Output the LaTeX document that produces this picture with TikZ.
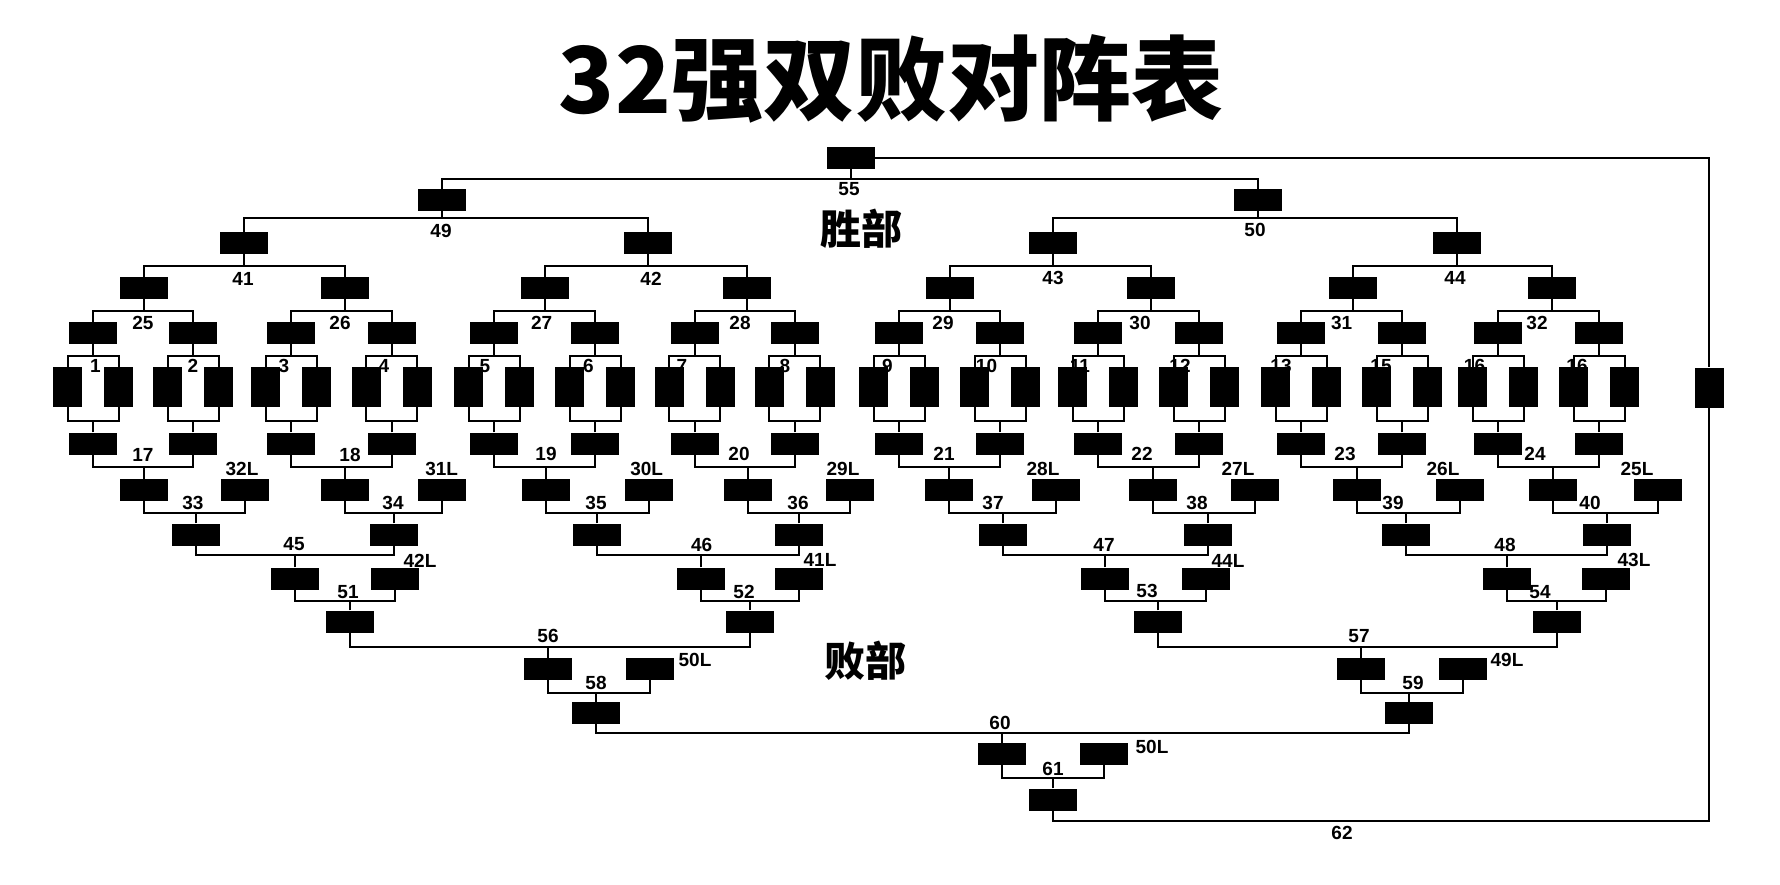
\documentclass[tikz,border=0pt]{standalone}
\usepackage{fontspec}
\setmainfont{Liberation Sans}
\newfontfamily\cjk{Noto Sans CJK SC}
\begin{document}
\begin{tikzpicture}[x=1pt,y=-1pt,
  bx/.style={rectangle,fill=black,inner sep=0pt,minimum width=48pt,minimum height=22pt},
  tall/.style={rectangle,fill=black,inner sep=0pt,minimum width=29pt,minimum height=40pt},
  lab/.style={inner sep=0pt,font=\fontsize{19}{21}\selectfont\bfseries},
  cjkt/.style={inner sep=0pt,font=\cjk\bfseries\fontsize{92}{104}\selectfont},
  cjks/.style={inner sep=0pt,font=\cjk\bfseries\fontsize{41}{47}\selectfont},
  ln/.style={line width=2pt},
]
\fill[white] (0,0) rectangle (1780,884);
\useasboundingbox (0,0) rectangle (1780,884);

% titles
\node[cjkt] (title) at (891,79) {32强双败对阵表};
\node[cjks] (win) at (861,229) {胜部};
\node[cjks] (lose) at (865,661) {败部};

% first-round labels (partly hidden behind the boxes)
\foreach \t/\x [count=\c] in {1/95.5,2/193,3/284,4/384,5/485,6/588.5,7/682,8/785,9/887.5,10/986.5,11/1080,12/1180,13/1281,15/1381,16/1474.5,16/1577}
  \node[lab] (m\c) at (\x,366) {\t};

% first round
\foreach \k/\m in {1/93,2/193,3/291,4/391.5,5/494,6/595,7/694.5,8/794.5,9/899,10/1000,11/1098,12/1199,13/1301,14/1402,15/1498,16/1599}{
  \node[tall] (ta\k) at (\m-25.5,387) {};
  \node[tall] (tc\k) at (\m+25.5,387) {};
  \node[bx] (w\k) at (\m,333) {};
  \node[bx] (l\k) at (\m,443.5) {};
  \coordinate (jw\k) at (\m,356);
  \coordinate (jl\k) at (\m,421);
  \draw[ln] (ta\k.north) |- (jw\k) -| (tc\k.north);
  \draw[ln] (w\k.south) -- (jw\k);
  \draw[ln] (ta\k.south) |- (jl\k) -| (tc\k.south);
  \draw[ln] (l\k.north) -- (jl\k);
}

% winners bracket
\foreach \j/\x in {1/143.5,2/344.5,3/545,4/747,5/950,6/1151,7/1353,8/1552}{
  \pgfmathtruncatemacro\a{2*\j-1}\pgfmathtruncatemacro\b{2*\j}
  \node[bx] (p\j) at (\x,288) {};
  \coordinate (jp\j) at (\x,311);
  \draw[ln] (w\a.north) |- (jp\j) -| (w\b.north);
  \draw[ln] (p\j.south) -- (jp\j);
}
\foreach \j/\x in {1/244,2/647.5,3/1053,4/1457}{
  \pgfmathtruncatemacro\a{2*\j-1}\pgfmathtruncatemacro\b{2*\j}
  \node[bx] (q\j) at (\x,243) {};
  \coordinate (jq\j) at (\x,266);
  \draw[ln] (p\a.north) |- (jq\j) -| (p\b.north);
  \draw[ln] (q\j.south) -- (jq\j);
}
\foreach \j/\x in {1/441.5,2/1258}{
  \pgfmathtruncatemacro\a{2*\j-1}\pgfmathtruncatemacro\b{2*\j}
  \node[bx] (s\j) at (\x,200) {};
  \coordinate (js\j) at (\x,218);
  \draw[ln] (q\a.north) |- (js\j) -| (q\b.north);
  \draw[ln] (s\j.south) -- (js\j);
}
\node[bx] (fin) at (851,158) {};
\coordinate (jf) at (851,179);
\draw[ln] (s1.north) |- (jf) -| (s2.north);
\draw[ln] (fin.south) -- (jf);

% losers bracket
\foreach \j/\x/\y/\z in {1/144/245/196,2/345/442/393.5,3/546/648.7/597,4/747.5/849.5/799,5/948.5/1056/1002.5,6/1153/1255/1208,7/1357/1459.5/1406,8/1552.5/1658/1607}{
  \pgfmathtruncatemacro\a{2*\j-1}\pgfmathtruncatemacro\b{2*\j}
  \node[bx] (a\j) at (\x,490) {};
  \node[bx] (lb\j) at (\y,490) {};
  \coordinate (ja\j) at (\x,467);
  \draw[ln] (l\a.south) |- (ja\j) -| (l\b.south);
  \draw[ln] (a\j.north) -- (ja\j);
  \node[bx] (c\j) at (\z,534.5) {};
  \coordinate (jc\j) at (\z,513);
  \draw[ln] (a\j.south) |- (jc\j) -| (lb\j.south);
  \draw[ln] (c\j.north) -- (jc\j);
}
\foreach \i/\x/\y/\z in {1/295/395/349.5,2/701/798.5/750,3/1105/1206/1158,4/1507/1606/1557}{
  \pgfmathtruncatemacro\a{2*\i-1}\pgfmathtruncatemacro\b{2*\i}
  \node[bx] (d\i) at (\x,578.5) {};
  \node[bx] (db\i) at (\y,578.5) {};
  \coordinate (jd\i) at (\x,555);
  \draw[ln] (c\a.south) |- (jd\i) -| (c\b.south);
  \draw[ln] (d\i.north) -- (jd\i);
  \node[bx] (e\i) at (\z,621.5) {};
  \coordinate (je\i) at (\z,601);
  \draw[ln] (d\i.south) |- (je\i) -| (db\i.south);
  \draw[ln] (e\i.north) -- (je\i);
}
% 56 / 57
\node[bx] (f1) at (548,669) {};
\node[bx] (fb1) at (649.5,669) {};
\coordinate (j56) at (548,647);
\draw[ln] (e1.south) |- (j56) -| (e2.south);
\draw[ln] (f1.north) -- (j56);
\node[bx] (f2) at (1361,669) {};
\node[bx] (fb2) at (1463,669) {};
\coordinate (j57) at (1361,647);
\draw[ln] (e3.south) |- (j57) -| (e4.south);
\draw[ln] (f2.north) -- (j57);
% 58 / 59
\node[bx] (g1) at (596,713) {};
\coordinate (j58) at (596,693);
\draw[ln] (f1.south) |- (j58) -| (fb1.south);
\draw[ln] (g1.north) -- (j58);
\node[bx] (g2) at (1409,713) {};
\coordinate (j59) at (1409,693);
\draw[ln] (f2.south) |- (j59) -| (fb2.south);
\draw[ln] (g2.north) -- (j59);
% 60
\node[bx] (h1) at (1002,754) {};
\node[bx] (hb) at (1103.5,754) {};
\coordinate (j60) at (1002,733);
\draw[ln] (g1.south) |- (j60) -| (g2.south);
\draw[ln] (h1.north) -- (j60);
% 61
\node[bx] (k61) at (1053,799.5) {};
\coordinate (j61) at (1053,778);
\draw[ln] (h1.south) |- (j61) -| (hb.south);
\draw[ln] (k61.north) -- (j61);
% 62 and grand final
\node[tall] (rt) at (1709,387.5) {};
\coordinate (j62) at (1709,821);
\draw[ln] (k61.south) |- (j62) -- (rt.south);
\draw[ln] (fin.east) -| (rt.north);

% labels
\foreach \t/\x/\y [count=\c] in {
  25/143/323,26/340/323,27/541.7/323,28/740/323,29/943/323,30/1140/323,31/1341.7/323,32/1537/323,
  41/243/279,42/651/279,43/1053/278,44/1455/278,
  49/441/231,50/1255/230,55/849/189,
  17/143/455,18/350/455,19/546/454,20/739/454,21/944/454,22/1142/454,23/1345/454,24/1535/454,
  32L/242/469,31L/441.7/469,30L/646.7/469,29L/843/469,28L/1043/469,27L/1238/469,26L/1443/469,25L/1637/469,
  33/193/503,34/393/503,35/596/503,36/798/503,37/993/503,38/1197/503,39/1393/503,40/1590/503,
  45/294/544,46/701.7/545,47/1104/545,48/1505/545,
  42L/420/561,41L/820/560,44L/1228/561,43L/1634/560,
  51/348/592,52/744/592,53/1147/591,54/1540/592,
  56/548/636,57/1359/636,50L/695/660,49L/1507/660,
  58/596/683,59/1413/683,
  60/1000/723,50L/1152/747,61/1053/769,62/1342/833}
  \node[lab] (n\c) at (\x,\y) {\t};
\end{tikzpicture}
\end{document}
